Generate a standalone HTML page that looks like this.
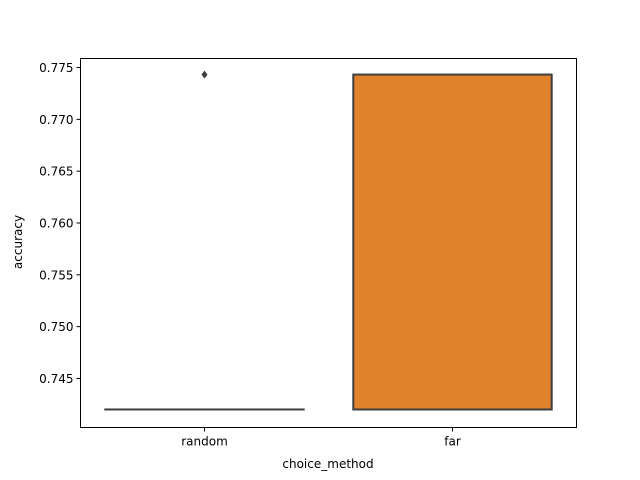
<!DOCTYPE html>
<html><head><meta charset="utf-8"><style>body{margin:0;background:#fff}svg{display:block}text{font-family:"DejaVu Sans","Liberation Sans",sans-serif;fill:#000}</style></head>
<body>
<svg id="chart" width="640" height="480">
<g id="marks"></g>
<rect x="80.5" y="58.5" width="496" height="369" fill="none" stroke="#000" stroke-width="1"/>
<g id="axes"></g>
<text x="328" y="468" text-anchor="middle" font-size="12">choice_method</text>
<text x="0" y="0" transform="translate(22,242) rotate(-90)" text-anchor="middle" font-size="12">accuracy</text>
</svg>
<script>
const categories = ["random","far"];
const q1 = [0.74201, 0.74201];
const median = [0.74201, 0.74201];
const q3 = [0.74201, 0.77432];
const whiskerLow = [0.74201, 0.74201];
const whiskerHigh = [0.74201, 0.77432];
const outliers = [[0.77432], []];
const colors = ["#3a75af","#e1812c"];
const yTicks = [0.745,0.750,0.755,0.760,0.765,0.770,0.775];
const yTickLabels = ["0.745","0.750","0.755","0.760","0.765","0.770","0.775"];

const NS="http://www.w3.org/2000/svg";
const L=80.5,R=576.5,T=58.5,B=427.5,yMin=0.74027,yMax=0.77587;
const y=v=>B-(v-yMin)/(yMax-yMin)*(B-T);
const band=(R-L)/categories.length;
const xc=i=>L+band*(i+0.5);
function mk(tag,attrs,parent){const e=document.createElementNS(NS,tag);for(const k in attrs)e.setAttribute(k,attrs[k]);parent.appendChild(e);return e;}
const marks=document.getElementById('marks'),axes=document.getElementById('axes');
categories.forEach((c,i)=>{
  const w=band*0.8,x0=xc(i)-w/2;
  const top=y(q3[i]),bot=y(q1[i]);
  const r=mk('rect',{x:x0,y:top,width:w,height:Math.max(bot-top,0.01),fill:colors[i],stroke:'#3f3f3f','stroke-width':2},marks);
  
  
  const m=mk('line',{x1:x0,x2:x0+w,y1:y(median[i]),y2:y(median[i]),stroke:'#3f3f3f','stroke-width':2},marks);
  
  
  const wl=mk('line',{x1:xc(i),x2:xc(i),y1:y(whiskerHigh[i]),y2:top,stroke:'#3f3f3f','stroke-width':2},marks);
  
  
  outliers[i].forEach(v=>{
    const o=mk('path',{d:`M${xc(i)},${y(v)-4} L${xc(i)+3},${y(v)} L${xc(i)},${y(v)+4} L${xc(i)-3},${y(v)} Z`,fill:'#3f3f3f'},marks);
    
    
  });
  mk('line',{x1:xc(i),x2:xc(i),y1:B,y2:B+4,stroke:'#000'},axes);
  const t=mk('text',{x:xc(i),y:B+18,'text-anchor':'middle','font-size':12},axes);
  t.textContent=c;
  
  
});
yTicks.forEach((v,k)=>{
  mk('line',{x1:L-4,x2:L,y1:y(v),y2:y(v),stroke:'#000'},axes);
  const t=mk('text',{x:L-7,y:y(v)+4.5,'text-anchor':'end','font-size':12},axes);
  t.textContent=yTickLabels[k];
  
  
});
</script>
</body></html>
